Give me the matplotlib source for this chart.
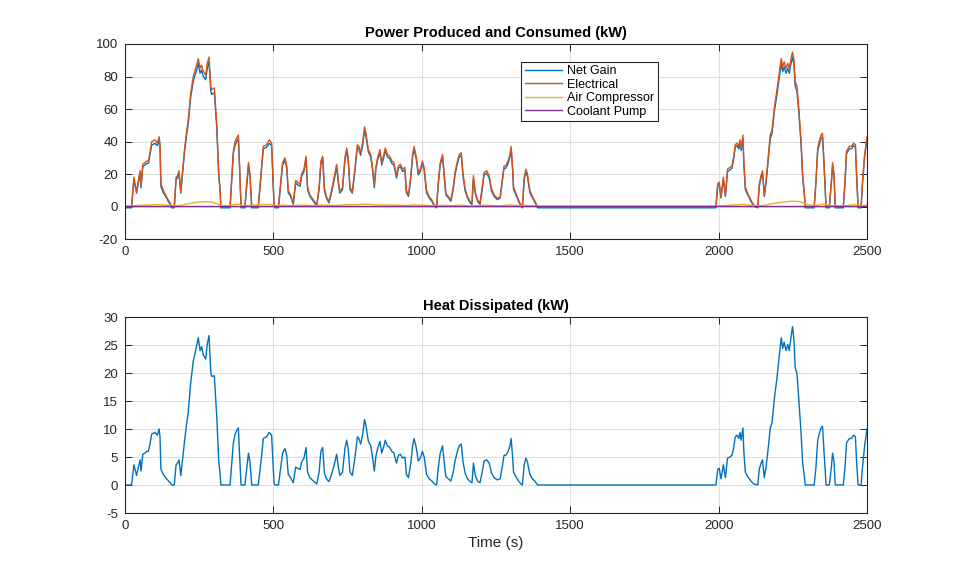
import matplotlib
matplotlib.use("Agg")
import matplotlib.pyplot as plt
import numpy as np

# ---------------- data ----------------
time_s = [0, 22, 30, 39, 45, 51, 54, 60, 67, 73, 79, 84, 90, 101, 109, 115, 118, 121, 129, 140,
          152, 157, 166, 172, 177, 182, 188, 193, 200, 208, 213, 221, 230, 238, 247, 253, 258, 264, 272, 277,
          283, 289, 292, 301, 309, 316, 320, 323, 354, 365, 371, 376, 382, 385, 391, 404, 410, 416, 421, 427,
          449, 460, 466, 477, 486, 494, 502, 505, 517, 525, 531, 539, 545, 550, 558, 567, 575, 581, 590, 595,
          603, 610, 615, 623, 635, 646, 654, 660, 666, 672, 679, 687, 696, 705, 713, 720, 724, 733, 741, 747,
          752, 758, 766, 775, 783, 788, 794, 801, 807, 812, 820, 828, 834, 840, 845, 851, 859, 865, 871, 877,
          884, 892, 899, 906, 915, 921, 928, 935, 943, 948, 955, 963, 969, 974, 982, 988, 995, 1002, 1008, 1016,
          1025, 1034, 1042, 1050, 1055, 1062, 1070, 1075, 1081, 1090, 1098, 1106, 1112, 1120, 1126, 1133, 1139, 1146, 1154, 1163,
          1169, 1174, 1180, 1188, 1196, 1202, 1210, 1219, 1227, 1235, 1244, 1255, 1264, 1272, 1277, 1283, 1291, 1297, 1301, 1306,
          1309, 1317, 1326, 1334, 1339, 1345, 1351, 1356, 1364, 1373, 1382, 1390, 1991, 1997, 2002, 2008, 2016, 2023, 2030, 2038,
          2045, 2051, 2056, 2062, 2068, 2072, 2076, 2082, 2085, 2090, 2098, 2109, 2118, 2132, 2137, 2143, 2148, 2154, 2160, 2167,
          2174, 2180, 2188, 2196, 2205, 2211, 2216, 2221, 2227, 2233, 2238, 2244, 2249, 2254, 2258, 2264, 2270, 2278, 2283, 2289,
          2292, 2322, 2328, 2334, 2339, 2345, 2350, 2355, 2362, 2373, 2380, 2384, 2389, 2393, 2420, 2426, 2431, 2440, 2448, 2455,
          2461, 2465, 2470, 2480, 2485, 2492, 2500]

electrical_kw = [0, 0, 18, 9, 16, 22, 13, 26, 27, 28, 28, 33, 40, 41, 39, 43, 38, 14, 10, 6,
                 2, 0, 0, 18, 19, 22, 9, 20, 34, 47, 53, 69, 80, 85, 91, 85, 87, 83, 81, 88,
                 92, 74, 72, 73, 51, 20, 12, 0, 0, 34, 40, 42, 44, 30, 0, 0, 14, 27, 20, 0,
                 0, 24, 37, 38, 41, 39, 2, 0, 0, 16, 27, 30, 25, 10, 7, 2, 16, 15, 14, 20,
                 23, 31, 12, 7, 4, 1, 12, 28, 31, 11, 6, 3, 10, 18, 26, 14, 9, 12, 30, 36,
                 30, 12, 9, 24, 38, 37, 33, 40, 49, 45, 35, 32, 24, 13, 24, 30, 35, 27, 31, 36,
                 32, 31, 28, 27, 19, 25, 26, 23, 24, 10, 7, 19, 32, 37, 30, 21, 23, 28, 24, 10,
                 6, 4, 1, 0, 14, 27, 32, 21, 8, 6, 4, 12, 21, 28, 32, 33, 20, 11, 6, 3,
                 2, 19, 9, 4, 2, 10, 21, 22, 19, 11, 7, 5, 6, 18, 25, 25, 28, 32, 37, 24,
                 12, 8, 4, 1, 0, 18, 23, 20, 10, 6, 3, 0, 0, 14, 15, 6, 18, 7, 23, 24,
                 25, 31, 38, 39, 37, 41, 36, 44, 28, 12, 8, 4, 1, 0, 14, 19, 22, 7, 16, 30,
                 44, 47, 61, 71, 83, 91, 86, 89, 85, 88, 85, 91, 95, 90, 77, 74, 61, 40, 20, 8,
                 0, 0, 16, 36, 40, 44, 45, 28, 0, 0, 16, 27, 20, 0, 0, 16, 34, 37, 37, 39,
                 38, 20, 0, 0, 16, 32, 43]

net_gain_kw = [-0.8, -0.8, 16.5, 8.2, 14.5, 20.5, 11.5, 24.5, 25.5, 26.5, 26.5, 31.5, 37.8, 38.8, 37.5, 40.8, 36.5, 12.5, 8.5, 5.2,
               1.2, -0.8, -0.8, 16.5, 17.5, 20.5, 8.2, 18.5, 32.5, 44.8, 50.8, 66.8, 77, 82, 88, 82, 84, 80, 78, 85,
               89, 71, 69, 70, 48.8, 18.5, 10.5, -0.8, -0.8, 32.5, 37.8, 39.8, 41.8, 28.5, -0.8, -0.8, 12.5, 25.5, 18.5, -0.8,
               -0.8, 22.5, 35.5, 36.5, 38.8, 37.5, 1.2, -0.8, -0.8, 14.5, 25.5, 28.5, 23.5, 8.5, 6.2, 1.2, 14.5, 13.5, 12.5, 18.5,
               21.5, 29.5, 10.5, 6.2, 3.2, 0.2, 10.5, 26.5, 29.5, 9.5, 5.2, 2.2, 8.5, 16.5, 24.5, 12.5, 8.2, 10.5, 28.5, 34.5,
               28.5, 10.5, 8.2, 22.5, 36.5, 35.5, 31.5, 37.8, 46.8, 42.8, 33.5, 30.5, 22.5, 11.5, 22.5, 28.5, 33.5, 25.5, 29.5, 34.5,
               30.5, 29.5, 26.5, 25.5, 17.5, 23.5, 24.5, 21.5, 22.5, 8.5, 6.2, 17.5, 30.5, 35.5, 28.5, 19.5, 21.5, 26.5, 22.5, 8.5,
               5.2, 3.2, 0.2, -0.8, 12.5, 25.5, 30.5, 19.5, 7.2, 5.2, 3.2, 10.5, 19.5, 26.5, 30.5, 31.5, 18.5, 9.5, 5.2, 2.2,
               1.2, 17.5, 8.2, 3.2, 1.2, 8.5, 19.5, 20.5, 17.5, 9.5, 6.2, 4.2, 5.2, 16.5, 23.5, 23.5, 26.5, 30.5, 35.5, 22.5,
               10.5, 7.2, 3.2, 0.2, -0.8, 16.5, 21.5, 18.5, 8.5, 5.2, 2.2, -0.8, -0.8, 12.5, 13.5, 5.2, 16.5, 6.2, 21.5, 22.5,
               23.5, 29.5, 36.5, 37.5, 35.5, 38.8, 34.5, 41.8, 26.5, 10.5, 7.2, 3.2, 0.2, -0.8, 12.5, 17.5, 20.5, 6.2, 14.5, 28.5,
               41.8, 44.8, 58.8, 68, 80, 88, 83, 86, 82, 85, 82, 88, 92, 87, 74, 71, 58.8, 37.8, 18.5, 7.2,
               -0.8, -0.8, 14.5, 34.5, 37.8, 41.8, 42.8, 26.5, -0.8, -0.8, 14.5, 25.5, 18.5, -0.8, -0.8, 14.5, 32.5, 35.5, 35.5, 37.5,
               36.5, 18.5, -0.8, -0.8, 14.5, 30.5, 40.8]

heat_kw = [0, 0, 3.6, 1.7, 3.2, 4.5, 2.5, 5.5, 5.7, 6.0, 6.0, 7.3, 9.1, 9.4, 8.9, 10.0, 8.6, 2.8, 1.9, 1.1,
           0.4, 0, 0, 3.6, 3.9, 4.5, 1.7, 4.1, 7.5, 11.1, 12.9, 18.1, 22.1, 24.0, 26.3, 24.0, 24.7, 23.2, 22.5, 25.1,
           26.7, 20.2, 19.4, 19.5, 12.3, 4.1, 2.3, 0, 0, 7.5, 9.1, 9.7, 10.2, 6.5, 0, 0, 2.8, 5.7, 4.1, 0,
           0, 5.0, 8.3, 8.6, 9.4, 8.9, 0.4, 0, 0, 3.2, 5.7, 6.5, 5.3, 1.9, 1.3, 0.4, 3.2, 3.0, 2.8, 4.1,
           4.8, 6.7, 2.3, 1.3, 0.7, 0.2, 2.3, 6.0, 6.7, 2.1, 1.1, 0.6, 1.9, 3.6, 5.5, 2.8, 1.7, 2.3, 6.5, 8.0,
           6.5, 2.3, 1.7, 5.0, 8.6, 8.3, 7.3, 9.1, 11.7, 10.5, 7.8, 7.0, 5.0, 2.5, 5.0, 6.5, 7.8, 5.7, 6.7, 8.0,
           7.0, 6.7, 6.0, 5.7, 3.9, 5.3, 5.5, 4.8, 5.0, 1.9, 1.3, 3.9, 7.0, 8.3, 6.5, 4.3, 4.8, 6.0, 5.0, 1.9,
           1.1, 0.7, 0.2, 0, 2.8, 5.7, 7.0, 4.3, 1.5, 1.1, 0.7, 2.3, 4.3, 6.0, 7.0, 7.3, 4.1, 2.1, 1.1, 0.6,
           0.4, 3.9, 1.7, 0.7, 0.4, 1.9, 4.3, 4.5, 3.9, 2.1, 1.3, 0.9, 1.1, 3.6, 5.3, 5.3, 6.0, 7.0, 8.3, 5.0,
           2.3, 1.5, 0.7, 0.2, 0, 3.6, 4.8, 4.1, 1.9, 1.1, 0.6, 0, 0, 2.8, 3.0, 1.1, 3.6, 1.3, 4.8, 5.0,
           5.3, 6.7, 8.6, 8.9, 8.3, 9.4, 8.0, 10.2, 6.0, 2.3, 1.5, 0.7, 0.2, 0, 2.8, 3.9, 4.5, 1.3, 3.2, 6.5,
           10.2, 11.1, 15.5, 18.8, 23.2, 26.3, 24.4, 25.5, 24.0, 25.1, 24.0, 26.3, 28.3, 25.9, 21.0, 19.9, 15.5, 9.1, 4.1, 1.5,
           0, 0, 3.2, 8.0, 9.1, 10.2, 10.5, 6.0, 0, 0, 3.2, 5.7, 4.1, 0, 0, 3.2, 7.5, 8.3, 8.3, 8.9,
           8.6, 4.1, 0, 0, 3.2, 7.0, 10.0]

comp_time_s = [0, 25, 50, 90, 120, 150, 165, 185, 210, 240, 270, 290, 310, 325, 350, 370, 385, 395, 430, 455,
               490, 505, 530, 560, 600, 640, 665, 700, 745, 790, 810, 850, 900, 950, 975, 1010, 1050, 1070, 1100, 1130,
               1160, 1180, 1220, 1260, 1300, 1330, 1350, 1390, 1990, 2020, 2060, 2085, 2120, 2150, 2180, 2220, 2250, 2275, 2295, 2320,
               2345, 2360, 2380, 2395, 2420, 2450, 2470, 2485, 2500]
air_compressor_kw = [0.2, 0.5, 0.8, 1.0, 1.2, 0.6, 0.3, 0.6, 1.6, 2.6, 3.0, 2.8, 1.8, 0.4, 0.6, 1.3, 1.4, 0.3, 0.8, 1.2,
                     1.2, 0.4, 0.8, 0.6, 0.8, 0.4, 1.0, 0.6, 1.0, 1.2, 1.4, 1.0, 0.9, 0.6, 1.0, 0.8, 0.3, 0.8, 0.4, 0.9,
                     0.3, 0.5, 0.8, 0.4, 1.0, 0.3, 0.7, 0.2, 0.2, 0.6, 1.0, 1.3, 0.5, 0.5, 1.8, 2.8, 3.3, 3.0, 1.5, 0.4,
                     1.2, 1.4, 0.4, 0.6, 0.3, 1.0, 1.2, 0.4, 1.0]

pump_time_s = [0, 2500]
coolant_pump_kw = [0.1, 0.1]

x_ticks = [0, 500, 1000, 1500, 2000, 2500]
top_yticks = [-20, 0, 20, 40, 60, 80, 100]
bot_yticks = [-5, 0, 5, 10, 15, 20, 25, 30]

# ---------------- style ----------------
plt.rcParams['font.family'] = ['Liberation Sans', 'DejaVu Sans']
plt.rcParams['axes.unicode_minus'] = False
axcol = '#262626'
c_blue = '#0072BD'
c_orange = '#D95319'
c_yellow = '#EDB120'
c_purple = '#7E2F8E'

fig = plt.figure(figsize=(9.59, 5.77), dpi=100)
ax1 = fig.add_axes([125/959, 1-239/577, 742/959, 195/577])
ax2 = fig.add_axes([125/959, 1-513/577, 742/959, 196/577])

def style(ax, yticks, ylim):
    ax.set_xlim(0, 2500)
    ax.set_ylim(*ylim)
    ax.set_xticks(x_ticks)
    ax.set_yticks(yticks)
    ax.grid(True, color='#DFDFDF', linewidth=0.8)
    ax.set_axisbelow(True)
    ax.tick_params(direction='in', length=5, width=0.7, colors=axcol, labelsize=9.5,
                   top=True, right=True, pad=5)
    for s in ax.spines.values():
        s.set_color(axcol)
        s.set_linewidth(0.8)

lw = 1.0
ax1.plot(time_s, net_gain_kw, color=c_blue, lw=lw, label='Net Gain')
ax1.plot(time_s, electrical_kw, color=c_orange, lw=lw, label='Electrical')
ax1.plot(comp_time_s, air_compressor_kw, color=c_yellow, lw=lw, label='Air Compressor')
ax1.plot(pump_time_s, coolant_pump_kw, color=c_purple, lw=lw, label='Coolant Pump')
style(ax1, top_yticks, (-20, 100))
ax1.set_title('Power Produced and Consumed (kW)', fontsize=10.5, fontweight='bold', color='#000000', pad=5)
leg = ax1.legend(loc='upper left', bbox_to_anchor=(0.534, 0.91), fontsize=9, frameon=True,
                 fancybox=False, framealpha=1, edgecolor='#262626', handlelength=3.0,
                 labelspacing=0.12, borderpad=0.28, handletextpad=0.4, borderaxespad=0)
leg.get_frame().set_linewidth(0.8)

ax2.plot(time_s, heat_kw, color=c_blue, lw=lw)
style(ax2, bot_yticks, (-5, 30))
ax2.set_title('Heat Dissipated (kW)', fontsize=10.5, fontweight='bold', color='#000000', pad=5)
ax2.set_xlabel('Time (s)', fontsize=11, color=axcol, labelpad=3)

fig.savefig('out.png', dpi=100, facecolor='white')
